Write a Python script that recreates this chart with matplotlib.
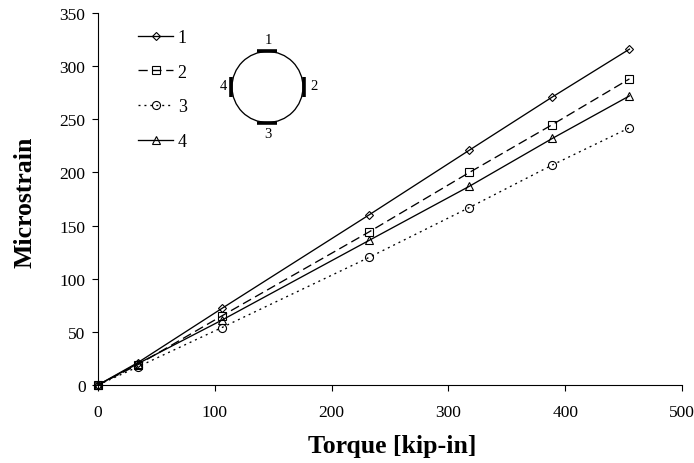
import matplotlib
matplotlib.use('Agg')
import matplotlib.pyplot as plt
from matplotlib.patches import Circle

plt.rcParams['font.family'] = ['Liberation Serif', 'DejaVu Serif']

# torque values and strain gauge readings
torque = [0, 34, 106, 232, 318, 389, 455]
gauge1 = [0, 21, 72, 160, 221, 271, 316]
gauge2 = [0, 19, 65, 144, 200, 245, 288]
gauge3 = [0, 17, 54, 120, 167, 207, 242]
gauge4 = [0, 20, 61, 136, 187, 232, 272]
labels = ['1', '2', '3', '4']

W, H = 694, 464
fig = plt.figure(figsize=(W / 100, H / 100), dpi=100)
ax = fig.add_axes([98 / W, 1 - 386 / H, 584 / W, 372 / H])

estilo = dict(color='black', lw=0.95, mfc='none', mec='black', mew=0.8)
ax.plot(torque, gauge1, '-', marker='D', ms=4.3, label=labels[0], clip_on=False, **estilo)
ax.plot(torque, gauge2, '--', marker='s', ms=5.8, dashes=(7, 3.5), label=labels[1], clip_on=False, **estilo)
ax.plot(torque, gauge3, ':', marker='o', ms=5.8, dashes=(1.5, 3), label=labels[2], clip_on=False, **estilo)
ax.plot(torque, gauge4, '-', marker='^', ms=5.8, label=labels[3], clip_on=False, **estilo)

ax.set_xlim(0, 500)
ax.set_ylim(0, 350)
ax.set_xticks(range(0, 501, 100))
ax.set_yticks(range(0, 351, 50))
ax.tick_params(labelsize=12.5, width=0.8, length=4, pad=5)
ax.tick_params(axis='x', pad=10)
ax.spines['top'].set_visible(False)
ax.spines['right'].set_visible(False)
ax.set_xlabel('Torque [kip-in]', fontsize=18.5, fontweight='bold', labelpad=9.5, x=0.503)
ax.set_ylabel('Microstrain', fontsize=18.5, fontweight='bold', labelpad=16.5, y=0.495)

ax.legend(loc='upper left', bbox_to_anchor=(40 / 584, 1 - 16 / 372), frameon=False,
          fontsize=13, labelspacing=0.98, handlelength=1.95, handletextpad=0.25,
          borderpad=0, borderaxespad=0)

# gauge layout sketch, in pixel coordinates
sk = fig.add_axes([0, 0, 1, 1])
sk.set_xlim(0, W)
sk.set_ylim(H, 0)
sk.axis('off')
sk.patch.set_alpha(0)
sk.add_patch(Circle((267.5, 88), 35.5, fill=False, ec='black', lw=0.95))
sk.plot([257, 277], [52, 52], color='black', lw=2.6, solid_capstyle='butt')
sk.plot([257, 277], [124, 124], color='black', lw=2.6, solid_capstyle='butt')
sk.plot([231, 231], [78, 98], color='black', lw=2.6, solid_capstyle='butt')
sk.plot([304, 304], [78, 98], color='black', lw=2.6, solid_capstyle='butt')
sk.text(268, 40, labels[0], fontsize=10.5, ha='center', va='center')
sk.text(314, 87, labels[1], fontsize=10.5, ha='center', va='center')
sk.text(268, 135, labels[2], fontsize=10.5, ha='center', va='center')
sk.text(223, 87, labels[3], fontsize=10.5, ha='center', va='center')

fig.savefig('out.png', dpi=100)
